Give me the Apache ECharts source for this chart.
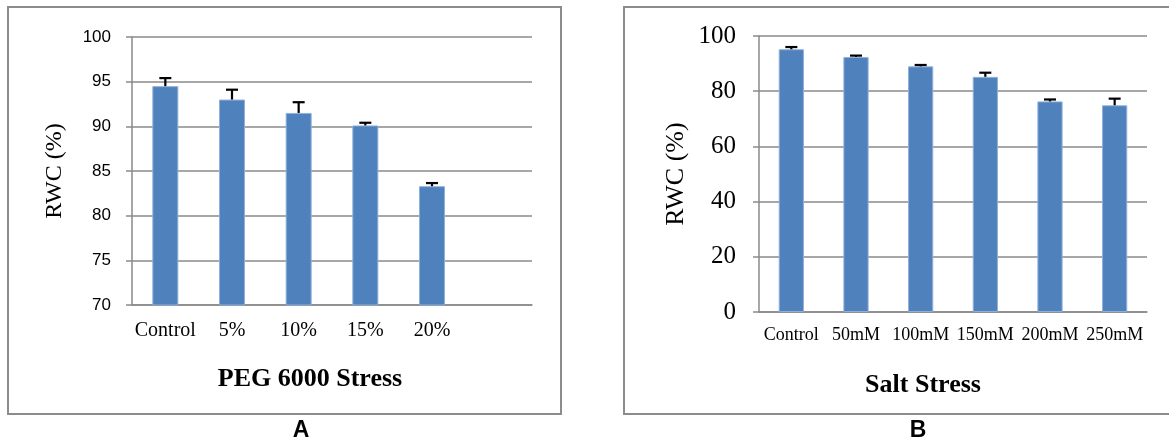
<!DOCTYPE html>
<html>
<head>
<meta charset="utf-8">
<script src="https://cdn.jsdelivr.net/npm/echarts@6/dist/echarts.min.js"></script>
<style>
  html, body { margin: 0; padding: 0; background: #fff; }
  #chart { width: 1169px; height: 446px; }
</style>
</head>
<body>
<div id="chart"></div>
<script>
// Panel A: relative water content under PEG 6000 osmotic stress
const pegCategories = ['Control', '5%', '10%', '15%', '20%', ''];
const pegRWC = [94.5, 93.0, 91.5, 90.1, 83.3];
const pegSE = [0.9, 1.1, 1.2, 0.3, 0.35];
const pegTicks = { min: 70, max: 100, interval: 5 };

// Panel B: relative water content under salt (NaCl) stress
const saltCategories = ['Control', '50mM', '100mM', '150mM', '200mM', '250mM'];
const saltRWC = [95.2, 92.4, 89.0, 85.2, 76.3, 74.9];
const saltSE = [0.8, 0.5, 0.5, 1.5, 0.7, 2.4];
const saltTicks = { min: 0, max: 100, interval: 20 };

const BAR = '#4F81BD';
const GRID = '#8a8a8a';
const SERIF = '"Liberation Serif", "Times New Roman", serif';
const SANS = '"Liberation Sans", Arial, sans-serif';

// Error bar: vertical stem from the bar top up by the SE, with a horizontal cap
function errorBar(params, api) {
  const x = api.value(0);
  const v = api.value(1);
  const e = api.value(2);
  const base = api.coord([x, v]);
  const top = api.coord([x, v + e]);
  const half = 6;
  const style = { stroke: '#000', lineWidth: 2.2 };
  return {
    type: 'group',
    children: [
      { type: 'line', shape: { x1: base[0], y1: base[1], x2: top[0], y2: top[1] }, style },
      { type: 'line', shape: { x1: top[0] - half, y1: top[1], x2: top[0] + half, y2: top[1] }, style }
    ]
  };
}

function errData(vals, errs) {
  return vals.map((v, i) => [i, v, errs[i]]);
}

const axisLine = { lineStyle: { color: GRID, width: 1.5 } };
const axisTick = { length: 6, lineStyle: { color: GRID, width: 1.5 } };
const splitLine = { show: true, lineStyle: { color: GRID, width: 1.5 } };

const chart = echarts.init(document.getElementById('chart'), null, { renderer: 'canvas' });

chart.setOption({
  animation: false,
  backgroundColor: '#fff',
  grid: [
    { left: 132, right: 1169 - 532, top: 37, bottom: 446 - 305 },
    { left: 759, right: 1169 - 1147, top: 36, bottom: 446 - 312 }
  ],
  xAxis: [
    {
      type: 'category', gridIndex: 0, data: pegCategories,
      axisLine, axisTick: Object.assign({ alignWithLabel: false }, axisTick),
      axisLabel: { color: '#000', fontFamily: SERIF, fontSize: 20, margin: 16, interval: 0 }
    },
    {
      type: 'category', gridIndex: 1, data: saltCategories,
      axisLine, axisTick: Object.assign({ alignWithLabel: false }, axisTick),
      axisLabel: { color: '#000', fontFamily: SERIF, fontSize: 18, margin: 14, interval: 0 }
    }
  ],
  yAxis: [
    {
      type: 'value', gridIndex: 0,
      min: pegTicks.min, max: pegTicks.max, interval: pegTicks.interval,
      axisLine: Object.assign({ show: true }, axisLine),
      axisTick: Object.assign({ show: true }, axisTick),
      splitLine,
      axisLabel: { color: '#000', fontFamily: SANS, fontSize: 17, margin: 21 },
      name: 'RWC (%)', nameLocation: 'middle', nameGap: 65,
      nameTextStyle: { color: '#000', fontFamily: SERIF, fontSize: 24 }
    },
    {
      type: 'value', gridIndex: 1,
      min: saltTicks.min, max: saltTicks.max, interval: saltTicks.interval,
      axisLine: Object.assign({ show: true }, axisLine),
      axisTick: Object.assign({ show: true }, axisTick),
      splitLine,
      axisLabel: { color: '#000', fontFamily: SERIF, fontSize: 25, margin: 23 },
      name: 'RWC (%)', nameLocation: 'middle', nameGap: 70,
      nameTextStyle: { color: '#000', fontFamily: SERIF, fontSize: 26 }
    }
  ],
  series: [
    {
      type: 'bar', xAxisIndex: 0, yAxisIndex: 0, data: pegRWC, barWidth: '39%',
      itemStyle: { color: BAR, borderColor: '#8fb0da', borderWidth: 1 }
    },
    {
      type: 'custom', xAxisIndex: 0, yAxisIndex: 0, renderItem: errorBar,
      data: errData(pegRWC, pegSE), z: 5
    },
    {
      type: 'bar', xAxisIndex: 1, yAxisIndex: 1, data: saltRWC, barWidth: '39%',
      itemStyle: { color: BAR, borderColor: '#8fb0da', borderWidth: 1 }
    },
    {
      type: 'custom', xAxisIndex: 1, yAxisIndex: 1, renderItem: errorBar,
      data: errData(saltRWC, saltSE), z: 5
    }
  ],
  graphic: [
    // panel frames
    { type: 'rect', shape: { x: 8, y: 7, width: 553, height: 407 },
      style: { fill: null, stroke: '#8c8c8c', lineWidth: 2 }, z: -1 },
    { type: 'rect', shape: { x: 624, y: 7, width: 560, height: 407 },
      style: { fill: null, stroke: '#8c8c8c', lineWidth: 2 }, z: -1 },
    // x-axis titles
    { type: 'text', x: 310, y: 379,
      style: { text: 'PEG 6000 Stress', font: 'bold 26px ' + SERIF, fill: '#000',
               align: 'center', verticalAlign: 'middle' } },
    { type: 'text', x: 923, y: 385,
      style: { text: 'Salt Stress', font: 'bold 26px ' + SERIF, fill: '#000',
               align: 'center', verticalAlign: 'middle' } },
    // panel letters
    { type: 'text', x: 301, y: 431,
      style: { text: 'A', font: 'bold 23px ' + SANS, fill: '#000',
               align: 'center', verticalAlign: 'middle' } },
    { type: 'text', x: 918, y: 431,
      style: { text: 'B', font: 'bold 23px ' + SANS, fill: '#000',
               align: 'center', verticalAlign: 'middle' } }
  ]
});
</script>
</body>
</html>
